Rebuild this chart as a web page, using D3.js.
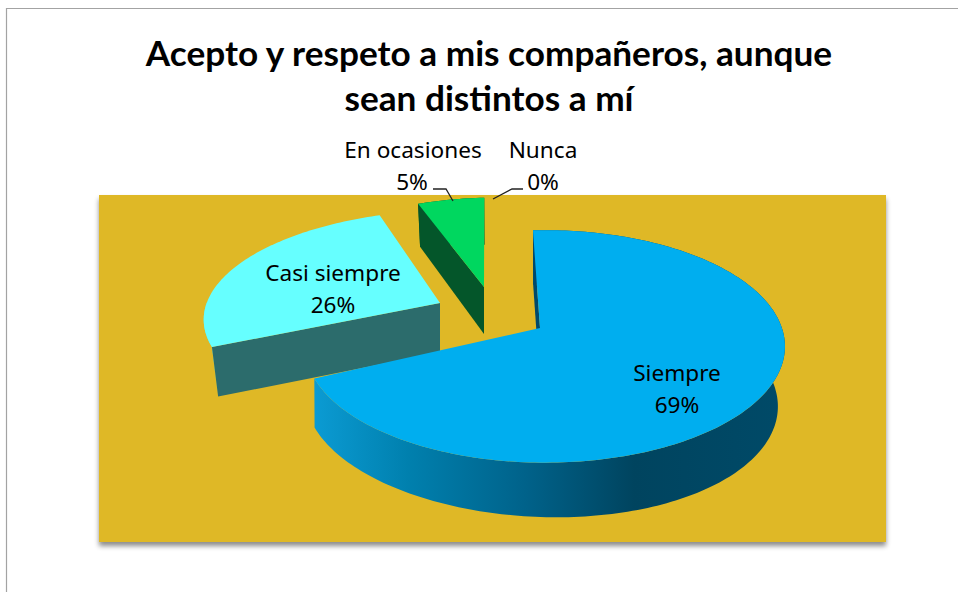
<!DOCTYPE html>
<html><head><meta charset="utf-8">
<script src="https://cdnjs.cloudflare.com/ajax/libs/d3/7.8.5/d3.min.js"></script>
<style>html,body{margin:0;padding:0;background:#fff}svg{display:block}</style>
</head><body><svg id="c" width="958" height="592"></svg>
<script>
const categories = ["Siempre","Casi siempre","En ocasiones","Nunca"];
const values = [69,26,5,0];
const titleLines = ["Acepto y respeto a mis compañeros, aunque","sean distintos a mí"];

const svg = d3.select("#c");
const W=958,H=592;
const defs = svg.append("defs");
const f = defs.append("filter").attr("id","sh").attr("x","-5%").attr("y","-5%").attr("width","110%").attr("height","112%");
f.append("feDropShadow").attr("dx",0).attr("dy",4).attr("stdDeviation",2.5).attr("flood-color","#000").attr("flood-opacity",.45);
const g = defs.append("linearGradient").attr("id","wall").attr("gradientUnits","userSpaceOnUse")
  .attr("x1",314).attr("x2",785).attr("y1",0).attr("y2",0);
[[0,"#0b9bd3"],[.2,"#0080ae"],[.45,"#00628a"],[.68,"#00445f"],[1,"#004a68"]].forEach(s=>g.append("stop").attr("offset",s[0]).attr("stop-color",s[1]));

// frame
svg.append("path").attr("d",`M6.5 ${H} V8.5 H${W}`).attr("fill","none").attr("stroke","#a3a3a3").attr("stroke-width",1.2);
// plot background
svg.append("rect").attr("x",99).attr("y",195).attr("width",787).attr("height",347).attr("fill","#dfb827").attr("filter","url(#sh)");
// title
svg.append("g").selectAll("text").data(titleLines).join("text")
  .attr("x",489).attr("y",(d,i)=>66+i*45).attr("text-anchor","middle")
  .attr("font-family","Lato").attr("font-weight",700).attr("font-size",35.2).attr("fill","#000").text(d=>d);

// pie angles
const rot = -3.4*Math.PI/180;
const pie = d3.pie().sort(null).value(d=>d).startAngle(rot).endAngle(rot+2*Math.PI);
const arcs = pie(values);
const B=238,A=113,K=0.167;
// layout of each slice (perspective and explosion)
const layout = [
 {ax:540,ay:328,cx:545,cy:327,sx:.994,sy:1,sh:0,d:54.5,tilt:.023,zx:.985,zq:.00006,top:"#00aeef",face:"#004a6b",wall:"url(#wall)"},
 {ax:440,ay:303,cx:453,cy:299.5,sx:1.029,sy:.925,sh:-.0476,d:49.5,tilt:0,zx:.974,zq:0,top:"#66ffff",face:"#2c6c6c",wall:"#55e8e8",wallSpan:.42},
 {ax:484,ay:287,cx:497,cy:304,sx:1.05,sy:1.1,sh:0,d:47.8,tilt:.062,zx:.975,zq:0,top:"#00d75f",face:"#04562a",wall:"#04562a"},
];
const line = d3.line();
function rim(l,t,z){
  const s=Math.sin(t),c=Math.cos(t),w=1+K*c;
  const dx=B*l.sx*s/w, dy=-A*l.sy*c/w, sk=l.sh*dy;
  return z?[l.cx+dx*(l.zx-l.zq*dx)+sk,l.cy+dy+l.d+l.tilt*dx]:[l.cx+dx+sk,l.cy+dy];
}
function samples(a){
  const n=Math.max(2,Math.ceil((a.endAngle-a.startAngle)/0.02));
  return d3.range(n+1).map(i=>a.startAngle+(a.endAngle-a.startAngle)*i/n);
}
function drawSlice(i){
  const a=arcs[i],l=layout[i],ts=samples(a);
  const top=ts.map(t=>rim(l,t,false)), bot=ts.map(t=>rim(l,t,true));
  const G=svg.append("g");
  const wallPts = l.wallSpan
    ? ts.filter(t=>t-a.startAngle<=l.wallSpan).map(t=>rim(l,t,false)).concat([bot[0]])
    : top.concat(bot.slice().reverse());
  G.append("path").attr("d",line(wallPts)+"Z").attr("fill",l.wall);
  const ab=[l.ax,l.ay+l.d+l.tilt*(l.ax-l.cx)];
  G.append("path").attr("d",line([top[0],bot[0],ab,[l.ax,l.ay]])+"Z").attr("fill",l.face);
  G.append("path").attr("d",line([[l.ax,l.ay]].concat(top))+"Z").attr("fill",l.top);
}
[1,2,0].forEach(drawSlice);

// leader lines
[[[433,189],[446,189],[453,201]],[[523,189],[512,189],[493,199]]].forEach(p=>
  svg.append("path").attr("d",line(p)).attr("fill","none").attr("stroke","#222").attr("stroke-width",1.3));

// labels
const lblPos=[[677,373],[333,273],[413,150],[543,150]];
const lbl=svg.append("g").attr("font-family","'Noto Sans'").attr("font-size",22.6).attr("fill","#000").attr("text-anchor","middle");
categories.forEach((c,i)=>{
  lbl.append("text").attr("x",lblPos[i][0]).attr("y",lblPos[i][1]+8).text(c);
  lbl.append("text").attr("x",lblPos[i][0]-(i==2?1:0)).attr("y",lblPos[i][1]+40).text(values[i]+"%");
});
</script></body></html>
